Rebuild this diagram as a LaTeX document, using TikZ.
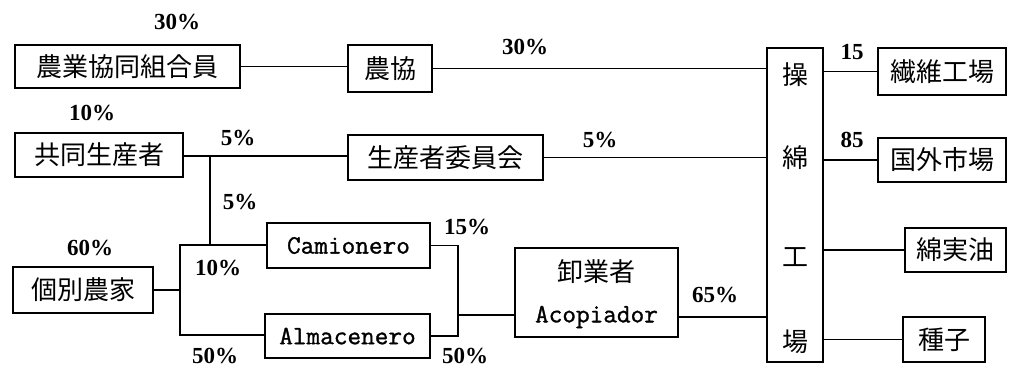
\documentclass[tikz,border=0pt]{standalone}
\usepackage{fontspec}
\setmainfont{Liberation Serif}
\newfontfamily\jp{Noto Sans CJK JP}
\newfontfamily\lat[FakeBold=1.2]{Latin Modern Mono}
\begin{document}
\begin{tikzpicture}[x=1pt,y=-1pt,
  box/.style={draw, line width=1.1pt, inner sep=0pt, font=\jp\fontsize{26}{28}\selectfont},
  jt/.style={font=\jp\fontsize{26}{28}\selectfont, inner sep=0pt},
  lt/.style={font=\lat\fontsize{26.5}{28}\selectfont, inner sep=0pt},
  pct/.style={font=\bfseries\fontsize{23}{25}\selectfont, inner sep=0pt},
  ln/.style={line width=1.1pt}]
\useasboundingbox (0,0) rectangle (1009,368);
% boxes
\node[box, minimum width=225, minimum height=43] (n1) at (127.5,66.5) {農業協同組合員};
\node[box, minimum width=84, minimum height=47] (n2) at (390,68.5) {農協};
\node[box, minimum width=56, minimum height=314] (mill) at (795,205) {};
\node[jt] (m1) at (795,75) {操};
\node[jt] (m2) at (795,158) {綿};
\node[jt] (m3) at (795,257) {工};
\node[jt] (m4) at (795,342) {場};
\node[box, minimum width=128, minimum height=47] (t1) at (942,71.5) {繊維工場};
\node[box, minimum width=128, minimum height=44] (t2) at (942,160) {国外市場};
\node[box, minimum width=101, minimum height=44] (t3) at (955.5,250) {綿実油};
\node[box, minimum width=82, minimum height=45] (t4) at (944,339.5) {種子};
\node[box, minimum width=168, minimum height=44] (n3) at (99,155) {共同生産者};
\node[box, minimum width=195, minimum height=45] (n4) at (445.5,157.5) {生産者委員会};
\node[box, minimum width=140, minimum height=46] (n5) at (83,290) {個別農家};
\node[box, lt, minimum width=163, minimum height=45] (cam) at (348.5,245.5) {Camionero};
\node[box, lt, minimum width=165, minimum height=44] (alm) at (347.5,336) {Almacenero};
\node[box, minimum width=163, minimum height=89] (aco) at (596.5,292.5) {};
\node[jt] (aco1) at (596.5,272) {卸業者};
\node[lt] (aco2) at (596.5,317) {Acopiador};
% junction coordinates
\coordinate (j1) at (210,156);
\coordinate (j2) at (210,245);
\coordinate (j3) at (180,245);
\coordinate (j4) at (180,335);
\coordinate (j5) at (458,315);
% connectors
\draw[ln] (n1.east) -- (n1.east -| n2.west);
\draw[ln] (n2.east) -- (n2.east -| mill.west);
\draw[ln] (n3.east |- j1) -- (j1 -| n4.west);
\draw[ln] (n4.east) -- (n4.east -| mill.west);
\draw[ln] (j1) -- (j2);
\draw[ln] (n5.east) -- (n5.east -| j3);
\draw[ln] (j3 -| cam.west) -- (j3) -- (j4) -- (j4 -| alm.west);
\draw[ln] (cam.east) -- (cam.east -| j5) -- (alm.east -| j5) -- (alm.east);
\draw[ln] (j5) -- (j5 -| aco.west);
\draw[ln] (aco2.east -| aco.east) -- (aco2.east -| mill.west);
\draw[ln] (mill.east |- t1.west) -- (t1.west);
\draw[ln] (mill.east |- t2.west) -- (t2.west);
\draw[ln] (mill.east |- t3.west) -- (t3.west);
\draw[ln] (mill.east |- t4.west) -- (t4.west);
% labels
\node[pct] (p1) at (177,22) {30\%};
\node[pct] (p2) at (525,47) {30\%};
\node[pct] (p3) at (852,52) {15};
\node[pct] (p4) at (852,140) {85};
\node[pct] (p5) at (92,113) {10\%};
\node[pct] (p6) at (238,138) {5\%};
\node[pct] (p7) at (600,140) {5\%};
\node[pct] (p8) at (240,202) {5\%};
\node[pct] (p9) at (90,248) {60\%};
\node[pct] (p10) at (218,268) {10\%};
\node[pct] (p11) at (467,227) {15\%};
\node[pct] (p12) at (715,295) {65\%};
\node[pct] (p13) at (215,356) {50\%};
\node[pct] (p14) at (465,356) {50\%};
\end{tikzpicture}
\end{document}
